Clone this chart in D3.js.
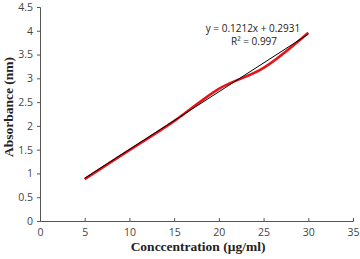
<!DOCTYPE html>
<html>
<head>
<meta charset="utf-8">
<script src="https://cdn.jsdelivr.net/npm/d3@7"></script>
<style>
  body { margin: 0; background: #fff; }
  .tick text { font-family: "Open Sans", sans-serif; font-size: 10.5px; fill: #444; }
  .axtitle { font-family: "Liberation Serif", serif; font-weight: bold; font-size: 13.5px; fill: #222; }
  .eq { font-family: "Open Sans", sans-serif; font-size: 10px; fill: #222; }
</style>
</head>
<body>
<script>
const concentration = [5, 10, 15, 20, 25, 30];
const absorbance = [0.88, 1.49, 2.10, 2.78, 3.22, 3.96];
const xTicks = [0, 5, 10, 15, 20, 25, 30, 35];
const yTicks = [0, 0.5, 1, 1.5, 2, 2.5, 3, 3.5, 4, 4.5];
const slope = 0.1212, intercept = 0.2931;

const width = 360, height = 259;
const svg = d3.select("body").append("svg")
    .attr("width", width)
    .attr("height", height);

const x = d3.scaleLinear().domain([0, 35]).range([40, 353]);
const y = d3.scaleLinear().domain([0, 4.5]).range([221, 7]);

// y axis, ticks pointing out
svg.append("g")
    .attr("transform", "translate(40,0)")
    .call(d3.axisLeft(y).tickValues(yTicks).tickSize(3).tickPadding(4).tickFormat(d3.format("")));
// x axis, ticks pointing in
const xAxis = svg.append("g")
    .attr("transform", "translate(0,221)")
    .call(d3.axisBottom(x).tickValues(xTicks).tickSize(-3).tickPadding(6));
xAxis.selectAll(".tick text").attr("dy", "0.71em").attr("y", 8);

svg.selectAll(".domain, .tick line").attr("stroke", "#555");

const pts = concentration.map((c, i) => [c, absorbance[i]]);

// data curve (smoothed)
svg.append("path")
    .datum(pts)
    .attr("fill", "none")
    .attr("stroke", "#e8141b")
    .attr("stroke-width", 2.6)
    .attr("d", d3.line().x(d => x(d[0])).y(d => y(d[1])).curve(d3.curveCatmullRom.alpha(0)));

// linear trendline
const x0 = d3.min(concentration), x1 = d3.max(concentration);
svg.append("line")
    .attr("x1", x(x0)).attr("y1", y(slope * x0 + intercept))
    .attr("x2", x(x1)).attr("y2", y(slope * x1 + intercept))
    .attr("stroke", "#000")
    .attr("stroke-width", 1);

svg.append("text").attr("class", "eq")
    .attr("x", 253).attr("y", 32).attr("text-anchor", "middle")
    .text("y = 0.1212x + 0.2931");
svg.append("text").attr("class", "eq")
    .attr("x", 254).attr("y", 45).attr("text-anchor", "middle")
    .text("R² = 0.997");

svg.append("text").attr("class", "axtitle")
    .attr("text-anchor", "middle")
    .attr("transform", "translate(13,107) rotate(-90)")
    .text("Absorbance (nm)");
svg.append("text").attr("class", "axtitle")
    .attr("text-anchor", "middle")
    .attr("x", 198).attr("y", 251)
    .text("Conccentration (μg/ml)");
</script>
</body>
</html>
